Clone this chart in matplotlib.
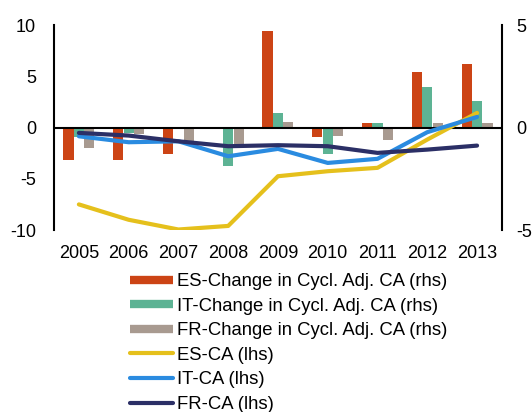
import numpy as np
import matplotlib.pyplot as plt
from matplotlib.lines import Line2D

plt.rcParams['font.family'] = ['Liberation Sans', 'DejaVu Sans']
plt.rcParams['axes.unicode_minus'] = False

years = ['2005', '2006', '2007', '2008', '2009', '2010', '2011', '2012', '2013']

# change in cyclically adjusted CA (rhs)
es_chg = [-1.58, -1.58, -1.28, 0.0, 4.70, -0.47, 0.20, 2.70, 3.10]
it_chg = [-0.47, -0.27, 0.0, -1.89, 0.70, -1.28, 0.20, 1.98, 1.30]
fr_chg = [-0.99, -0.31, -0.67, -0.78, 0.29, -0.39, -0.59, 0.20, 0.20]

# current account (lhs)
es_ca = [-7.5, -9.0, -9.95, -9.6, -4.75, -4.26, -3.93, -1.17, 1.43]
it_ca = [-0.85, -1.43, -1.34, -2.8, -2.08, -3.45, -3.05, -0.45, 1.04]
fr_ca = [-0.52, -0.78, -1.34, -1.82, -1.72, -1.82, -2.47, -2.15, -1.76]

c_es_bar, c_it_bar, c_fr_bar = '#CC4415', '#5DB394', '#A89A90'
c_es, c_it, c_fr = '#E5C01C', '#2A8BE0', '#2B2F66'

fig = plt.figure(figsize=(5.32, 4.12), dpi=100)
ax = fig.add_axes([0.1015, 0.4417, 0.842, 0.4973])
ax2 = ax.twinx()
ax.set_zorder(2)
ax.patch.set_visible(False)

x = np.arange(len(years))
w = 0.21
ax2.bar(x - w, es_chg, w * 0.97, color=c_es_bar)
ax2.bar(x, it_chg, w * 0.97, color=c_it_bar)
ax2.bar(x + w, fr_chg, w * 0.97, color=c_fr_bar)

kw = dict(lw=3, solid_capstyle='round', solid_joinstyle='round')
ax.plot(x, es_ca, color=c_es, **kw)
ax.plot(x, it_ca, color=c_it, **kw)
ax.plot(x, fr_ca, color=c_fr, **kw)
ax.axhline(0, color='black', lw=1.5, zorder=1)

ax.set_xlim(-0.5, len(years) - 0.5)
ax.set_ylim(-10, 10)
ax2.set_ylim(-5, 5)
ax.set_yticks([-10, -5, 0, 5, 10])
ax2.set_yticks([-5, 0, 5])
ax.set_xticks(x)
ax.set_xticklabels(years)

for a in (ax, ax2):
    for s in ('top', 'bottom'):
        a.spines[s].set_visible(False)
    a.tick_params(length=0, labelsize=13)
ax.spines['right'].set_visible(False)
ax2.spines['left'].set_visible(False)
ax.spines['left'].set_linewidth(1.5)
ax2.spines['right'].set_linewidth(1.5)
ax.tick_params(axis='x', pad=11)
ax.tick_params(axis='y', pad=13)
ax2.tick_params(axis='y', pad=10)

handles = [
    Line2D([], [], color=c_es_bar, lw=6, solid_capstyle='butt'),
    Line2D([], [], color=c_it_bar, lw=6, solid_capstyle='butt'),
    Line2D([], [], color=c_fr_bar, lw=6, solid_capstyle='butt'),
    Line2D([], [], color=c_es, lw=3, solid_capstyle='round'),
    Line2D([], [], color=c_it, lw=3, solid_capstyle='round'),
    Line2D([], [], color=c_fr, lw=3, solid_capstyle='round'),
]
labels = ['ES-Change in Cycl. Adj. CA (rhs)', 'IT-Change in Cycl. Adj. CA (rhs)',
          'FR-Change in Cycl. Adj. CA (rhs)', 'ES-CA (lhs)', 'IT-CA (lhs)', 'FR-CA (lhs)']
fig.legend(handles, labels, loc='upper left', bbox_to_anchor=(0.2444, 0.337),
           frameon=False, fontsize=13.3, borderpad=0, borderaxespad=0,
           handlelength=2.3, handletextpad=0.27, labelspacing=0.41)

fig.savefig('out.png', dpi=100)
